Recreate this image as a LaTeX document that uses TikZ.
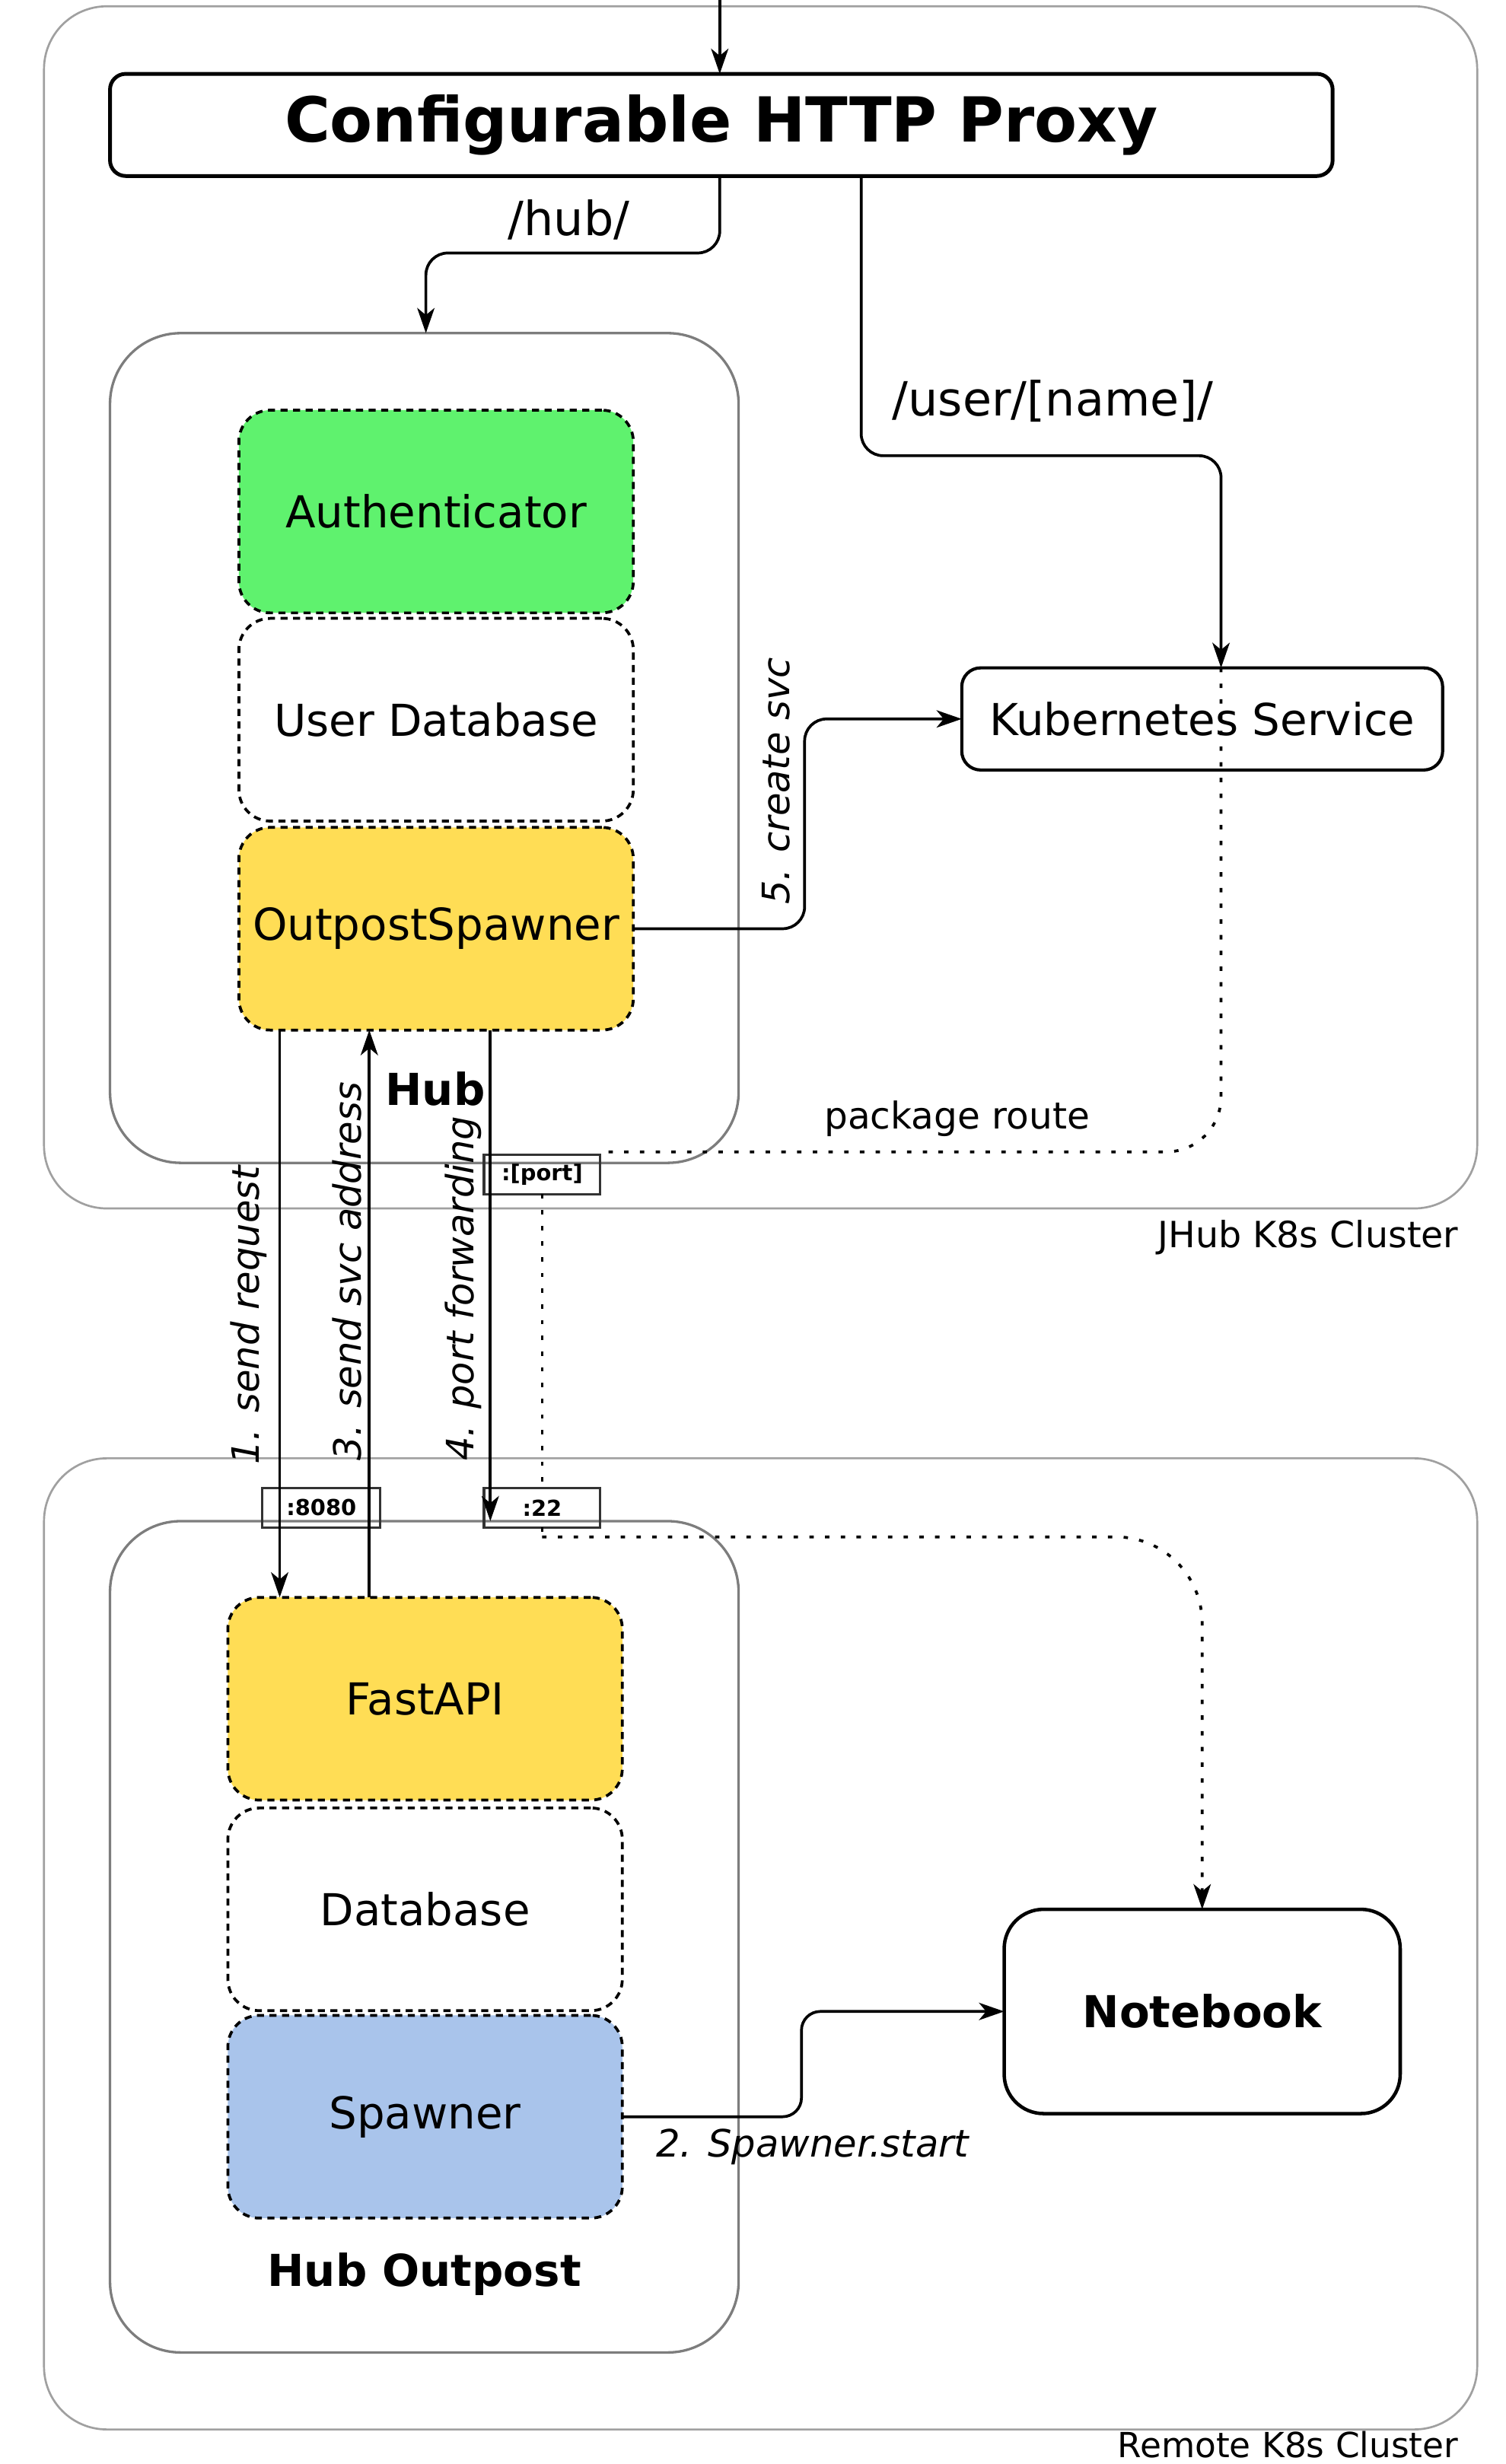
\documentclass[tikz,border=0pt]{standalone}
\usepackage{fontspec}
\setmainfont{DejaVu Sans}
\usetikzlibrary{arrows.meta}
\definecolor{agreen}{RGB}{95,242,110}
\definecolor{ayellow}{RGB}{255,221,85}
\definecolor{ablue}{RGB}{169,196,235}
\definecolor{cgray}{RGB}{160,160,160}
\definecolor{hgray}{RGB}{125,125,125}
\newcommand{\myfs}[1]{\fontsize{#1}{#1}\selectfont}
\begin{document}
\begin{tikzpicture}[x=1pt,y=-1pt,
  every node/.style={inner sep=0pt, outer sep=0pt},
  cluster/.style={draw=cgray, line width=1.3pt, rounded corners=40pt, minimum width=912pt},
  group/.style={draw=hgray, line width=1.6pt, rounded corners=45pt, minimum width=400pt},
  comp/.style={draw=black, line width=1.8pt, dash pattern=on 4.5pt off 3.5pt, rounded corners=20pt,
    minimum width=251pt, minimum height=129pt, font=\myfs{28}},
  proxybox/.style={draw=black, fill=white, line width=2.4pt, rounded corners=10pt,
    minimum width=778pt, minimum height=65pt, font=\myfs{39.5}\bfseries},
  svcbox/.style={draw=black, fill=white, line width=2pt, rounded corners=12pt,
    minimum width=306pt, minimum height=65pt, font=\myfs{28}},
  nbbox/.style={draw=black, fill=white, line width=2.2pt, rounded corners=25pt,
    minimum width=252pt, minimum height=130pt, font=\myfs{28}\bfseries},
  portbox/.style={draw=black!80, line width=1.5pt, minimum width=74pt, minimum height=25pt,
    font=\myfs{14}\bfseries},
  tip/.style={-{Stealth[length=16pt,width=11pt,inset=4.5pt]}},
  arr/.style={draw=black, line width=1.8pt, tip},
  dotline/.style={draw=black, line width=1.8pt, dash pattern=on 2.8pt off 7.2pt},
  steplabel/.style={font=\myfs{24}\itshape},
  pathlabel/.style={font=\myfs{30}},
  clusterlabel/.style={font=\myfs{22}, anchor=base east}
]
\useasboundingbox (0,0) rectangle (958,1568);

% clusters and groups
\node[cluster, minimum height=765pt] (jhub) at (484,386.5) {};
\node[cluster, minimum height=618pt] (remote) at (484,1237) {};
\node[group, minimum height=528pt] (hub) at (270,476) {};
\node[group, minimum height=529pt] (outpost) at (270,1232.5) {};
\node[clusterlabel, font=\myfs{23}] (jhublabel) at (928,794) {JHub K8s Cluster};
\node[clusterlabel] (remotelabel) at (928,1564) {Remote K8s Cluster};

% main nodes
\node[proxybox] (proxy) at (459,79.5) {Configurable HTTP Proxy};
\node[comp, fill=agreen] (auth) at (277.5,325.5) {Authenticator};
\node[comp, fill=white] (userdb) at (277.5,458) {User Database};
\node[comp, fill=ayellow] (osp) at (277.5,591) {OutpostSpawner};
\node[font=\myfs{28}\bfseries] (hublabel) at (277,693) {Hub};
\node[svcbox] (k8s) at (765,457.5) {Kubernetes Service};
\node[comp, fill=ayellow] (fastapi) at (270.5,1081) {FastAPI};
\node[comp, fill=white] (db) at (270.5,1215) {Database};
\node[comp, fill=ablue] (spawner) at (270.5,1347) {Spawner};
\node[font=\myfs{28}\bfseries] (outpostlabel) at (270,1447) {Hub Outpost};
\node[nbbox] (nb) at (765,1280) {Notebook};
\node[portbox, minimum height=25pt] (port) at (345,747.5) {:[port]};
\node[portbox, minimum width=75pt] (p8080) at (204.5,959.5) {:8080};
\node[portbox] (p22) at (345,959.5) {:22};

% helper coordinates
\coordinate (top) at (458,-10);
\coordinate (hubbend) at (271,161);
\coordinate (ub1) at (548,290);
\coordinate (ux) at (777,290);
\coordinate (c5) at (512,0);
\coordinate (c2) at (510,0);
\coordinate (l1) at (178,0);
\coordinate (l3) at (235,0);
\coordinate (l4) at (312,0);
\coordinate (pr) at (777,733);

% connectors
\draw[arr] (top) -- (top |- proxy.north);
\draw[arr, rounded corners=14pt] (proxy.south -| top) |- (hubbend) -- (hub.north -| hubbend);
\node[pathlabel] (hubtxt) at (362,140) {/hub/};
\draw[arr, rounded corners=14pt] (proxy.south -| ub1) -- (ub1) -- (ux) -- (k8s.north -| ux);
\node[pathlabel] (usertxt) at (670,255) {/user/[name]/};

\draw[arr, rounded corners=14pt] (osp.east) -| (c5 |- k8s.west) -- (k8s.west);
\node[steplabel, rotate=90] (s5) at (494,497) {5. create svc};

\draw[arr] (osp.south -| l1) -- (fastapi.north -| l1);
\node[steplabel, rotate=90] (s1) at (158,837) {1. send request};
\draw[arr] (fastapi.north -| l3) -- (osp.south -| l3);
\node[steplabel, rotate=90] (s3) at (221,809) {3. send svc address};
\draw[arr] (osp.south -| l4) -- (outpost.north -| l4);
\node[steplabel, rotate=90] (s4) at (295,820) {4. port forwarding};

\draw[arr, rounded corners=12pt] (spawner.east) -| (c2 |- nb.west) -- (nb.west);
\node[steplabel] (s2) at (517,1366) {2. Spawner.start};

% dotted package route
\draw[dotline, rounded corners=35pt] (k8s.north -| ux) -- (pr) -- (port.east |- pr);
\node[font=\myfs{23.5}] (pkgtxt) at (609,712) {package route};
\draw[dotline] (port.south) -- (p22.north);
\draw[dotline] (p22.south) -- ++(0,6) coordinate (d1);
\draw[dotline, tip, rounded corners=55pt] (d1) -| (nb.north);
\end{tikzpicture}
\end{document}
